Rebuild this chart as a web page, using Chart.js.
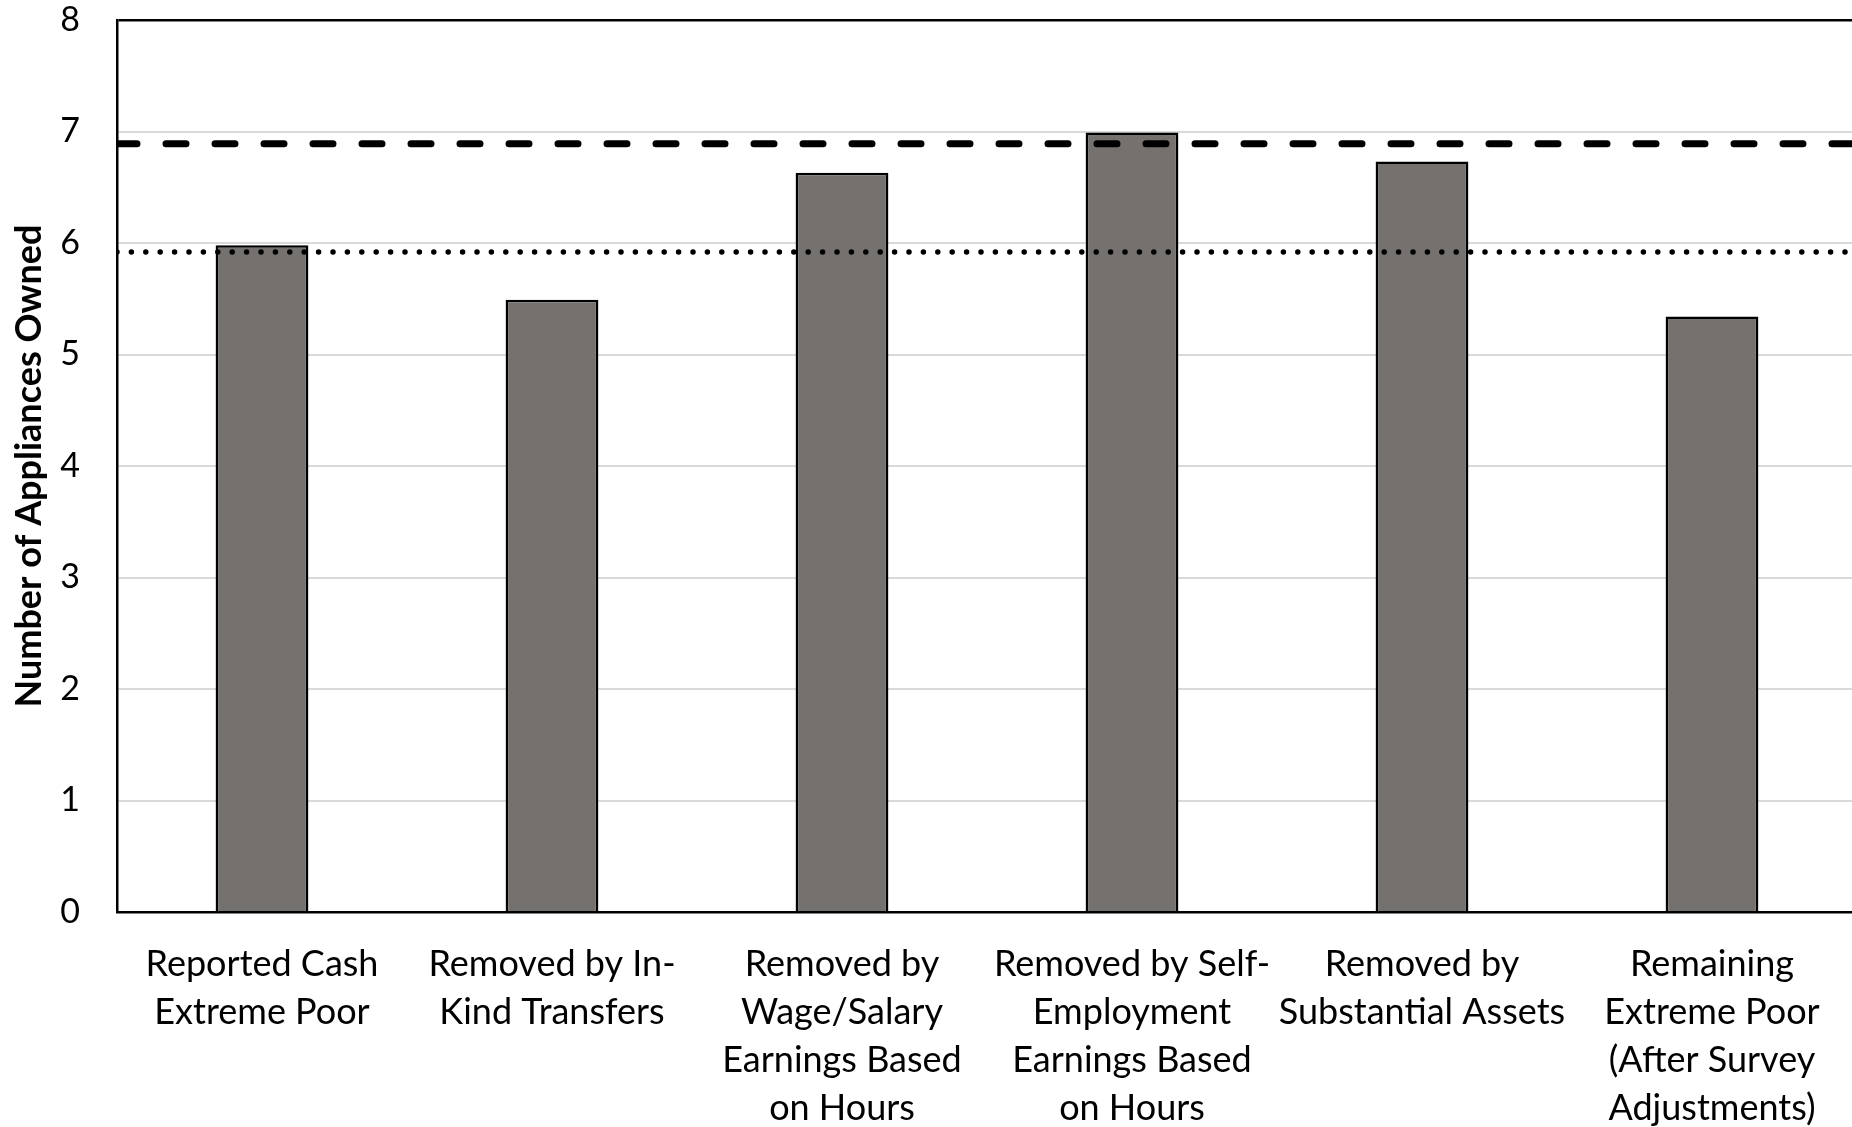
<!DOCTYPE html>
<html>
<head>
<meta charset="utf-8">
<script src="https://cdn.jsdelivr.net/npm/chart.js@4/dist/chart.umd.min.js"></script>
<style>
  html, body { margin: 0; padding: 0; background: #fff; overflow: hidden; }
  #wrap { position: absolute; left: 0; top: 0; }
</style>
</head>
<body>
<div id="wrap"><canvas id="myChart" width="1870" height="1127"></canvas></div>
<script>
// categories along the x axis (multi-line labels)
var categories = [
    ['Reported Cash', 'Extreme Poor'],
    ['Removed by In-', 'Kind Transfers'],
    ['Removed by', 'Wage/Salary', 'Earnings Based', 'on Hours'],
    ['Removed by Self-', 'Employment', 'Earnings Based', 'on Hours'],
    ['Removed by', 'Substantial Assets'],
    ['Remaining', 'Extreme Poor', '(After Survey', 'Adjustments)']
];
// mean number of appliances per group
var appliances = [5.98, 5.49, 6.63, 6.99, 6.73, 5.34];
// reference levels drawn across the whole plot
var dashedLevel = 6.89;
var dottedLevel = 5.92;
var yTicks = [0, 1, 2, 3, 4, 5, 6, 7, 8];

var FONT = 'Lato, "Open Sans", sans-serif';

var levelLine = function(v) {
    return [{ x: 0, y: v }, { x: 1, y: v }];
};

var myChart = new Chart(document.getElementById('myChart'), {
    type: 'bar',
    data: {
        labels: categories,
        datasets: [{
            type: 'line',
            data: levelLine(dashedLevel),
            xAxisID: 'xl',
            borderColor: '#000',
            borderWidth: 7,
            borderDash: [20, 29],
            borderCapStyle: 'round',
            pointRadius: 0,
            order: 0
        }, {
            type: 'line',
            data: levelLine(dottedLevel),
            xAxisID: 'xl',
            borderColor: '#000',
            borderWidth: 5.5,
            borderDash: [0, 14.4],
            borderCapStyle: 'round',
            pointRadius: 0,
            order: 0
        }, {
            data: appliances,
            xAxisID: 'x',
            backgroundColor: '#75716f',
            borderColor: '#000',
            borderWidth: 2.5,
            grouped: false,
            categoryPercentage: 1,
            barPercentage: 0.32,
            order: 1
        }]
    },
    options: {
        responsive: false,
        animation: false,
        layout: { padding: { top: 20, right: 13, left: 0, bottom: 0 } },
        plugins: { legend: { display: false }, tooltip: { enabled: false } },
        scales: {
            x: {
                type: 'category',
                grid: { display: false, drawTicks: false },
                border: { color: '#000', width: 2.5 },
                ticks: {
                    color: '#000',
                    autoSkip: false,
                    maxRotation: 0,
                    padding: 28,
                    font: { family: FONT, size: 36, lineHeight: 1.333 }
                },
                afterFit: function(scale) { scale.height = 215; }
            },
            xl: { type: 'linear', min: 0, max: 1, offset: false, display: false },
            y: {
                min: 0,
                max: 8,
                afterBuildTicks: function(scale) {
                    scale.ticks = yTicks.map(function(v) { return { value: v }; });
                },
                grid: {
                    drawTicks: false,
                    color: function(ctx) { return ctx.tick && ctx.tick.value === 8 ? '#000' : '#d9d9d9'; },
                    lineWidth: function(ctx) { return ctx.tick && ctx.tick.value === 8 ? 2.5 : 2; }
                },
                border: { color: '#000', width: 2.5 },
                ticks: {
                    color: '#000',
                    padding: 37,
                    font: { family: FONT, size: 34 }
                },
                title: {
                    display: true,
                    text: 'Number of Appliances Owned',
                    color: '#000',
                    padding: { top: 8, bottom: 0 },
                    font: { family: FONT, size: 36, weight: 'bold' }
                },
                afterFit: function(scale) {
                    // fixed axis width; the "8" label may sit above the plot frame
                    scale.width = 117;
                    scale.paddingTop = 0;
                    scale.paddingBottom = 0;
                }
            }
        }
    }
});
</script>
</body>
</html>
